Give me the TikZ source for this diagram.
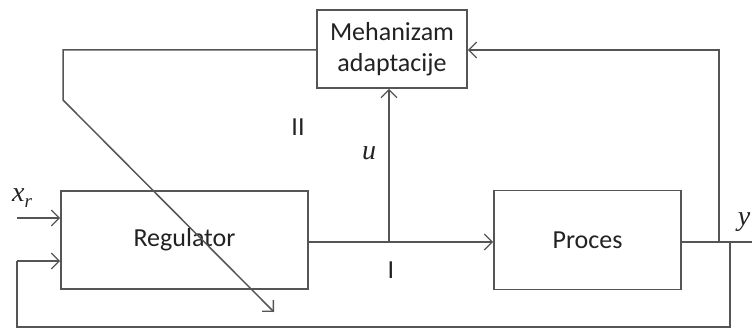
\documentclass[tikz,border=0pt]{standalone}
\usepackage{fontspec}
\setmainfont{Carlito}
\newfontfamily\mathserif{Liberation Serif}
\usetikzlibrary{arrows.meta}
\definecolor{linec}{HTML}{555555}
\definecolor{textc}{HTML}{222222}
\tikzset{
  blk/.style={draw=linec, line width=1.6pt, rectangle, inner sep=0pt, text=textc,
    font=\fontsize{26}{31}\selectfont, align=center},
  wire/.style={draw=linec, line width=1.5pt},
  arr/.style={wire, -{Straight Barb[length=8pt,width=16pt,line width=1.3pt]}},
  lbl/.style={text=textc, font=\fontsize{26}{31}\selectfont, inner sep=0pt},
  mlbl/.style={text=textc, font=\mathserif\itshape\fontsize{28}{32}\selectfont, inner sep=0pt}
}
\begin{document}
\begin{tikzpicture}[x=1pt,y=-1pt]
\useasboundingbox (0,0) rectangle (752,331);
\node[blk, minimum width=150pt, minimum height=78pt] (meh) at (392,49) {Mehanizam\\adaptacije};
\node[blk, minimum width=247pt, minimum height=98pt] (reg) at (184.5,240) {Regulator};
\node[blk, minimum width=187pt, minimum height=99pt] (proc) at (587.5,240) {Proces};
% coordinates
\coordinate (ml) at (63,50);
\coordinate (mld) at (63,100);
\coordinate (diag) at (274,312);
\coordinate (ry) at (719,242);
\coordinate (rtop) at (719,50);
\coordinate (yend) at (752,242);
\coordinate (fbr) at (730,242);
\coordinate (fbrb) at (730,327);
\coordinate (fbl) at (17,327);
\coordinate (fbin) at (17,261);
\coordinate (xin) at (17,218);
\coordinate (uj) at (389,242);
% connectors
\draw[arr] (meh.west |- ml) -- (ml) -- (mld) -- (diag);
\draw[wire] (proc.east |- ry) -- (yend);
\draw[arr] (ry) -- (rtop) -- (meh.east |- rtop);
\draw[wire] (fbr) -- (fbrb) -- (fbl) -- (fbin);
\draw[arr] (fbin) -- (reg.west |- fbin);
\draw[arr] (xin) -- (reg.west |- xin);
\draw[arr] (reg.east |- uj) -- (proc.west |- uj);
\draw[arr] (uj) -- (meh.south -| uj);
% labels
\node[mlbl] (lx) at (22,198) {x\raisebox{-6pt}{\fontsize{19}{20}\selectfont r}};
\node[mlbl] (ly) at (744,222) {y};
\node[mlbl] (lu) at (369,153) {u};
\node[lbl] (lII) at (298,127) {II};
\node[lbl] (lI) at (391,270) {I};
\end{tikzpicture}
\end{document}
